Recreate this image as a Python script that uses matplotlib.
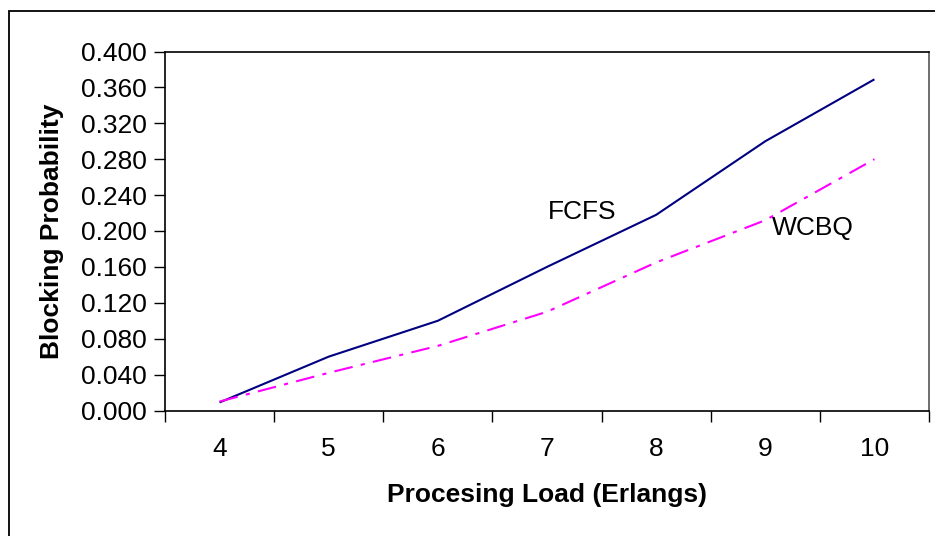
import matplotlib
matplotlib.use('Agg')
import matplotlib.pyplot as plt
from matplotlib.patches import Rectangle
from matplotlib.ticker import FixedLocator

plt.rcParams['font.family'] = ['Liberation Sans', 'DejaVu Sans']

load = [4, 5, 6, 7, 8, 9, 10]
fcfs = [0.009, 0.060, 0.100, 0.160, 0.218, 0.300, 0.369]
wcbq = [0.010, 0.042, 0.072, 0.110, 0.165, 0.212, 0.280]
y_ticks = [0.0, 0.04, 0.08, 0.12, 0.16, 0.20, 0.24, 0.28, 0.32, 0.36, 0.40]

W, H = 935, 536
FS = 19
fig = plt.figure(figsize=(W / 100, H / 100), dpi=100)

# outer chart frame (Excel-style border, runs off the right/bottom edge)
fig.patches.append(Rectangle((8.5 / W, -0.1), 1.2, 1 - 10.5 / H + 0.1,
                             transform=fig.transFigure, fill=False,
                             edgecolor='black', lw=1.3))

left, top, right, bottom = 165, 51.5, 929, 410.5
ax = fig.add_axes([left / W, 1 - bottom / H, (right - left) / W, (bottom - top) / H])

ax.plot(load, fcfs, color='#000080', lw=1.5, solid_capstyle='butt')
ax.plot(load, wcbq, color='#FF00FF', lw=1.5, dashes=(9, 4, 2, 4))

ax.set_xlim(3.5, 10.5)
ax.set_ylim(0, 0.4)
ax.set_yticks(y_ticks)
ax.set_yticklabels([f'{v:.3f}' for v in y_ticks])

# category axis: labels centred, tick marks between categories
ax.xaxis.set_major_locator(FixedLocator([x - 0.5 for x in load] + [10.5]))
ax.set_xticklabels([])
ax.xaxis.set_minor_locator(FixedLocator(load))
ax.set_xticklabels([str(x) for x in load], minor=True)
ax.tick_params(axis='x', which='major', direction='out', length=8, width=1)
ax.tick_params(axis='x', which='minor', length=0, pad=19, labelsize=FS)
ax.tick_params(axis='y', direction='out', length=8, width=1, pad=5, labelsize=FS)

for s in ax.spines.values():
    s.set_linewidth(1.2)
ax.spines['right'].set_color('#555555')

# series labels placed in figure pixels (from top-left)
fig.text(582 / W, 1 - 212 / H, 'FCFS', fontsize=FS, ha='center', va='center')
fig.text(813 / W, 1 - 228 / H, 'WCBQ', fontsize=FS, ha='center', va='center')

ax.set_xlabel('Procesing Load (Erlangs)', fontsize=FS, fontweight='bold', labelpad=16)
ax.set_ylabel('Blocking Probability', fontsize=FS, fontweight='bold', labelpad=12)

fig.savefig('out.png', dpi=100)
